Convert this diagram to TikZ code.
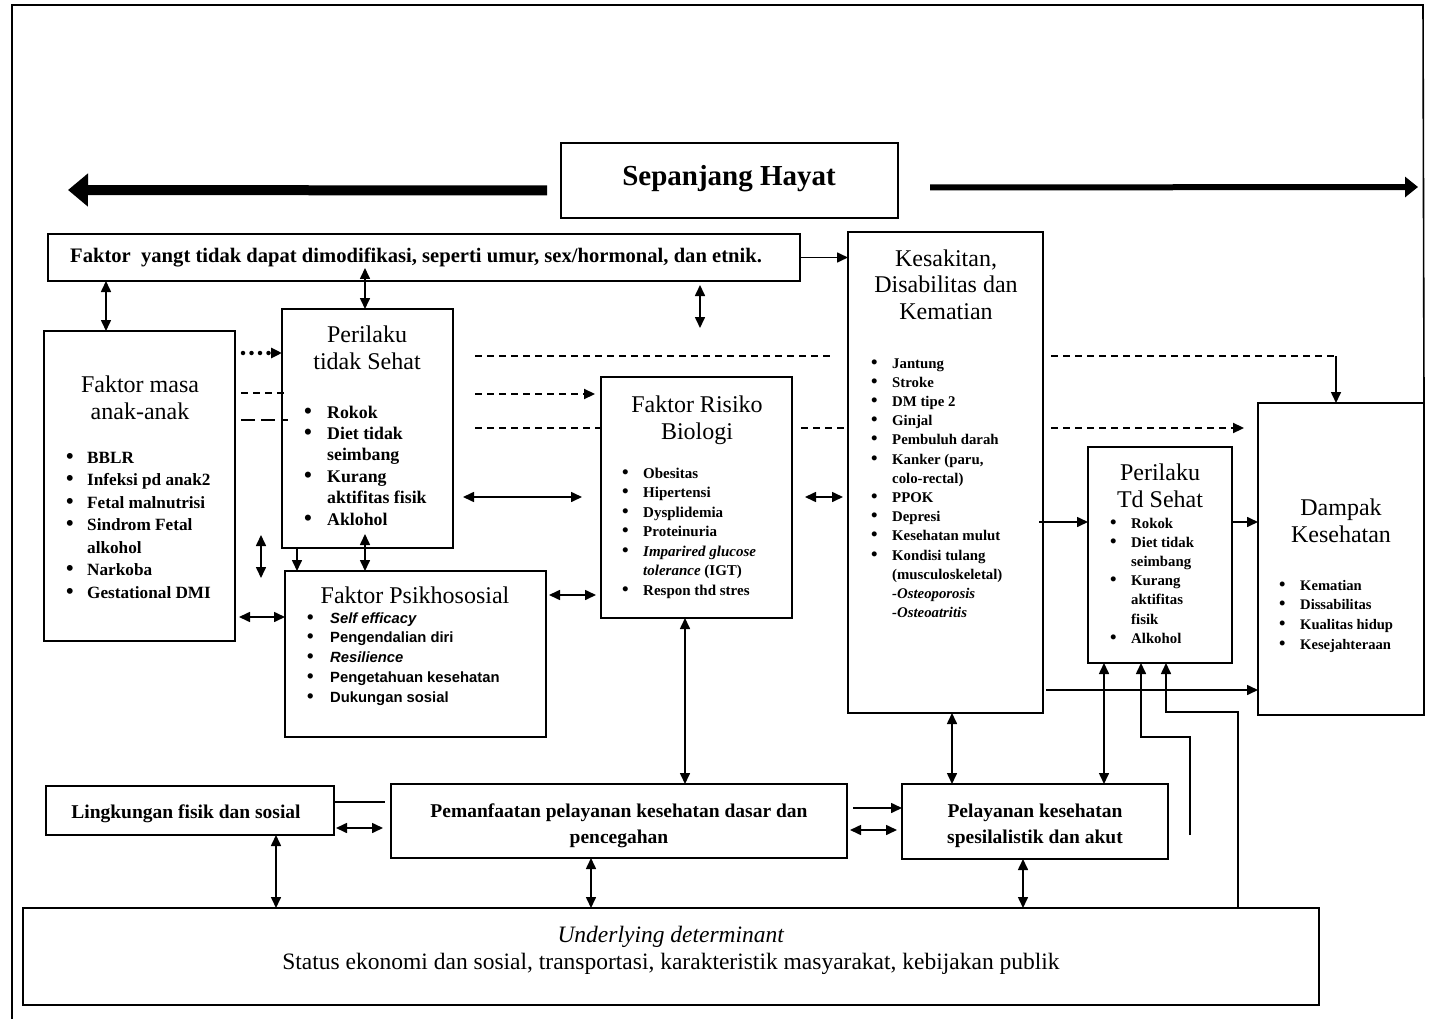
\documentclass[tikz,border=0pt]{standalone}
\usepackage{fontspec}
\setmainfont{Liberation Serif}
\newfontfamily\psans{Liberation Sans}
\usetikzlibrary{arrows.meta,calc,fit}
\newcommand{\ml}[1]{\begin{tabular}[t]{@{}c@{}}#1\end{tabular}}
\newcommand{\bl}[2][21pt]{\begin{tabular}[t]{@{}p{#1}@{}l@{}}#2\end{tabular}}
\newcommand{\bu}{\scalebox{1.25}{\textbullet}&}
\tikzset{
  box/.style={draw, line width=2.1pt, inner sep=0pt, outer sep=0pt},
  conn/.style={line width=1.6pt},
  dsh/.style={line width=2.2pt, dash pattern=on 7pt off 5pt},
  ldsh/.style={line width=2.2pt, dash pattern=on 14pt off 6pt},
  dotarr/.style={line width=4.5pt, dash pattern=on 0pt off 8.5pt, line cap=round},
  hd/.style={inner sep=0pt, anchor=base, font=\fontsize{24}{27}\selectfont},
  lst/.style={inner sep=0pt, anchor=base west},
}
\begin{document}
\begin{tikzpicture}[x=1pt,y=-1pt,>={Triangle[length=11pt,width=10pt]}]
\useasboundingbox (0,0) rectangle (1433,1019);
\fill[white] (0,0) rectangle (1433,1019);

% boxes
\node[box, fit={(561,143)(898,218)}] (sh) {};
\node[box, fit={(48,234)(800,281)}] (fy) {};
\node[box, fit={(44,331)(235,641)}] (fm) {};
\node[box, fit={(282,309)(453,548)}] (per) {};
\node[box, fit={(285,571)(546,737)}] (psi) {};
\node[box, fit={(601,377)(792,618)}] (frb) {};
\node[box, fit={(848,232)(1043,713)}] (kes) {};
\node[box, fit={(1088,447)(1232,663)}] (td) {};
\node[box, fit={(1258,403)(1424,715)}] (dam) {};
\node[box, fit={(46,786)(334,835)}] (lk) {};
\node[box, fit={(391,784)(847,858)}] (pm) {};
\node[box, fit={(902,784)(1168,859)}] (pl) {};
\node[box, fit={(23,908)(1319,1005)}] (ud) {};

% frame
\draw[line width=1.6pt] (12,1019) -- (12,5) -- (1423,5) -- (dam.north east);

% texts
\node[inner sep=0pt, anchor=base, font=\bfseries\fontsize{29}{32}\selectfont] (sht) at (729,186) {Sepanjang Hayat};
\node[inner sep=0pt, anchor=base west, font=\bfseries\fontsize{20.6}{24}\selectfont] (fyt) at (70,262) {Faktor~ yangt tidak dapat dimodifikasi, seperti umur, sex/hormonal, dan etnik.};

\node[hd] (fmh) at (140,392) {\ml{Faktor masa\\anak-anak}};
\node[lst, font=\bfseries\fontsize{17.2}{22.5}\selectfont] (fml) at (66,463) {\bl{\bu BBLR\\ \bu Infeksi pd anak2\\ \bu Fetal malnutrisi\\ \bu Sindrom Fetal\\ & alkohol\\ \bu Narkoba\\ \bu Gestational DMI}};

\node[hd] (perh) at (367,342) {\ml{Perilaku\\tidak Sehat}};
\node[lst, font=\bfseries\fontsize{17.8}{21.4}\selectfont] (perl) at (304,418) {\bl[23pt]{\bu Rokok\\ \bu Diet tidak\\ & seimbang\\ \bu Kurang\\ & aktifitas fisik\\ \bu Aklohol}};

\node[hd] (psih) at (415,603) {Faktor Psikhososial};
\node[lst, font=\psans\bfseries\fontsize{14.8}{19.75}\selectfont] (psil) at (307,623) {\bl[23pt]{\bu \textit{Self efficacy}\\ \bu Pengendalian diri\\ \bu \textit{Resilience}\\ \bu Pengetahuan kesehatan\\ \bu Dukungan sosial}};

\node[hd] (frbh) at (697,412) {\ml{Faktor Risiko\\Biologi}};
\node[lst, font=\bfseries\fontsize{15}{19.5}\selectfont] (frbl) at (622,478) {\bl{\bu Obesitas\\ \bu Hipertensi\\ \bu Dysplidemia\\ \bu Proteinuria\\ \bu \textit{Imparired glucose}\\ & \textit{tolerance} (IGT)\\ \bu Respon thd stres}};

\node[hd] (kesh) at (946,266) {\ml{Kesakitan,\\Disabilitas dan\\Kematian}};
\node[lst, font=\bfseries\fontsize{14.8}{19.2}\selectfont] (kesl) at (871,368) {\bl{\bu Jantung\\ \bu Stroke\\ \bu DM tipe 2\\ \bu Ginjal\\ \bu Pembuluh darah\\ \bu Kanker (paru,\\ & colo-rectal)\\ \bu PPOK\\ \bu Depresi\\ \bu Kesehatan mulut\\ \bu Kondisi tulang\\ & (musculoskeletal)\\ & \textit{-Osteoporosis}\\ & \textit{-Osteoatritis}}};

\node[hd] (tdh) at (1160,480) {\ml{Perilaku\\Td Sehat}};
\node[lst, font=\bfseries\fontsize{14.8}{19.2}\selectfont] (tdl) at (1110,528) {\bl{\bu Rokok\\ \bu Diet tidak\\ & seimbang\\ \bu Kurang\\ & aktifitas\\ & fisik\\ \bu Alkohol}};

\node[hd] (damh) at (1341,515) {\ml{Dampak\\Kesehatan}};
\node[lst, font=\bfseries\fontsize{14.6}{19.7}\selectfont] (daml) at (1279,590) {\bl{\bu Kematian\\ \bu Dissabilitas\\ \bu Kualitas hidup\\ \bu Kesejahteraan}};

\node[inner sep=0pt, anchor=base, font=\bfseries\fontsize{19.5}{26}\selectfont] (lkt) at (186,818) {Lingkungan fisik dan sosial};
\node[inner sep=0pt, anchor=base, font=\bfseries\fontsize{19.5}{26}\selectfont] (pmt) at (619,817) {\ml{Pemanfaatan pelayanan kesehatan dasar dan\\pencegahan}};
\node[inner sep=0pt, anchor=base, font=\bfseries\fontsize{19.5}{26}\selectfont] (plt) at (1035,817) {\ml{Pelayanan kesehatan\\spesilalistik dan akut}};
\node[inner sep=0pt, anchor=base, font=\fontsize{23.5}{27}\selectfont] (udt) at (671,942) {\ml{\textit{Underlying determinant}\\Status ekonomi dan sosial, transportasi, karakteristik masyarakat, kebijakan publik}};

% Sepanjang Hayat arrows
\coordinate (la) at (68,190);
\coordinate (ra) at (1418,187);
\draw[line width=10pt, -{Triangle[length=20pt,width=32pt]}] ($(sh.west)+(-14,10)$) -- (la);
\draw[line width=6pt, -{Triangle[length=13pt,width=20pt]}] ($(sh.east)+(32,7)$) -- (ra);

% connectors top
\draw[conn,->] (fy.east) -- (fy.east -| kes.west);
\draw[conn,<->] ($(fm.north west)+(62,0)$) -- ($(fy.south west)+(58,0)$);
\draw[conn,<->] ($(per.north west)+(83,0)$) -- ($(fy.south west)+(317,-13)$);
\coordinate (fa1) at (700,285);
\coordinate (fa2) at (700,328);
\draw[conn,<->] (fa1) -- (fa2);

% left dotted / dashed
\draw[dotarr,->] ($(fm.north east)+(8,22)$) -- ($(per.north west)+(0,44)$);
\draw[dsh] ($(fm.north east)+(6,62)$) -- ($(per.north west)+(6,84)$);
\draw[ldsh] ($(fm.north east)+(6,89)$) -- ($(per.north west)+(6,111)$);

% dashed long lines
\draw[dsh] ($(per.north east)+(22,47)$) -- ($(kes.north west)+(-15,124)$);
\coordinate (dcorner) at ($(dam.north west)+(78,-47)$);
\draw[dsh] ($(kes.north east)+(8,124)$) -- (dcorner);
\draw[conn,->] (dcorner) -- (dcorner |- dam.north);
\draw[dsh,->] ($(per.north east)+(22,85)$) -- ($(frb.north west)+(-6,17)$);
\draw[dsh] ($(per.north east)+(22,119)$) -- ($(frb.north west)+(0,51)$);
\draw[dsh] ($(frb.north east)+(9,51)$) -- ($(kes.north west)+(0,196)$);
\draw[dsh,->] ($(kes.north east)+(8,196)$) -- ($(dam.north west)+(-14,25)$);

% middle connectors
\draw[conn,<->] ($(per.north east)+(10,188)$) -- ($(frb.north west)+(-19,120)$);
\draw[conn,<->] ($(frb.north east)+(13,120)$) -- ($(kes.north west)+(-5,265)$);
\coordinate (fb1) at (261,535);
\coordinate (fb2) at (261,578);
\draw[conn,<->] (fb1) -- (fb2);
\draw[conn,->] ($(per.south west)+(15,0)$) -- ($(psi.north west)+(12,0)$);
\draw[conn,<->] ($(per.south west)+(83,-14)$) -- ($(psi.north west)+(80,0)$);
\draw[conn,<->] ($(fm.north east)+(4,286)$) -- ($(psi.north west)+(0,46)$);
\draw[conn,<->] ($(psi.north east)+(3,24)$) -- ($(frb.north west)+(-5,218)$);
\draw[conn,<->] ($(frb.south west)+(84,0)$) -- ($(pm.north west)+(294,0)$);

% right connectors
\draw[conn,->] ($(kes.north east)+(-4,290)$) -- ($(td.north west)+(0,75)$);
\draw[conn,->] ($(td.north east)+(0,75)$) -- ($(dam.north west)+(0,119)$);
\draw[conn,->] ($(kes.south east)+(3,-23)$) -- ($(dam.north west)+(0,287)$);
\draw[conn,<->] ($(kes.south west)+(104,0)$) -- ($(pl.north west)+(50,0)$);
\draw[conn,<->] ($(td.south west)+(16,0)$) -- ($(pl.north west)+(202,0)$);
\coordinate (fe1) at (1190,835);
\draw[conn,->] (fe1) |- ($(td.south west)+(53,74)$) -- ($(td.south west)+(53,0)$);
\draw[conn,->] ($(ud.north west)+(1215,0)$) |- ($(td.south west)+(78,49)$) -- ($(td.south west)+(78,0)$);

% bottom connectors
\draw[conn] ($(lk.north east)+(0,16)$) -- ($(pm.north west)+(-6,18)$);
\draw[conn,<->] ($(lk.north east)+(2,42)$) -- ($(pm.north west)+(-8,44)$);
\draw[conn,->] ($(pm.north east)+(6,24)$) -- ($(pl.north west)+(0,24)$);
\draw[conn,<->] ($(pm.north east)+(3,46)$) -- ($(pl.north west)+(-5,46)$);
\draw[conn,<->] ($(lk.south west)+(230,0)$) -- ($(ud.north west)+(253,0)$);
\draw[conn,<->] ($(pm.south west)+(200,0)$) -- ($(ud.north west)+(568,0)$);
\draw[conn,<->] ($(pl.south west)+(121,0)$) -- ($(ud.north west)+(1000,0)$);
\end{tikzpicture}
\end{document}
